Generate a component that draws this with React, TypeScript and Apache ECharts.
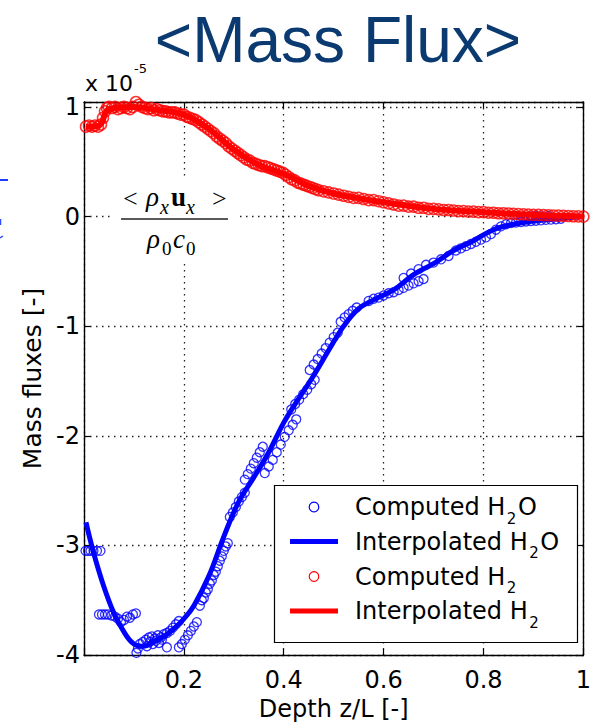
import React, { useEffect, useRef } from 'react';
import * as echarts from 'echarts';

// ---------- data ----------
const xTickValues = [0.2, 0.4, 0.6, 0.8, 1];
const yTickValues = [-4, -3, -2, -1, 0, 1];

const seriesNames = ['Computed H2O', 'Interpolated H2O', 'Computed H2', 'Interpolated H2'];
// legend label pieces: [before subscript, subscript, after subscript]
const legendParts: string[][] = [
  ['Computed H', '2', 'O'],
  ['Interpolated H', '2', 'O'],
  ['Computed H', '2', ''],
  ['Interpolated H', '2', ''],
];

// Interpolated H2O curve (x, value·1e5)
const h2oCurve: number[][] = [
  [0.004, -2.79], [0.02, -3.08], [0.04, -3.38], [0.06, -3.62], [0.08, -3.79], [0.1, -3.9],
  [0.12, -3.92], [0.14, -3.88], [0.16, -3.83], [0.18, -3.76], [0.2, -3.67], [0.22, -3.55],
  [0.25, -3.28], [0.28, -2.92], [0.31, -2.6], [0.34, -2.38], [0.37, -2.15], [0.4, -1.88],
  [0.43, -1.66], [0.46, -1.45], [0.49, -1.22], [0.52, -1.0], [0.55, -0.84], [0.58, -0.76],
  [0.62, -0.67], [0.66, -0.53], [0.7, -0.43], [0.74, -0.31], [0.78, -0.22], [0.82, -0.12],
  [0.86, -0.07], [0.9, -0.04], [0.95, -0.02], [1.0, 0.0],
];

// Computed H2O markers
const h2oComputed: number[][] = [
  [0.003, -3.05], [0.008, -3.05], [0.013, -3.05], [0.019, -3.05], [0.026, -3.05], [0.033, -3.05],
  [0.03, -3.63], [0.036, -3.63], [0.042, -3.63], [0.048, -3.63], [0.055, -3.64], [0.062, -3.65],
  [0.068, -3.67], [0.074, -3.7], [0.08, -3.68], [0.086, -3.65], [0.092, -3.66], [0.098, -3.63], [0.104, -3.62],
  [0.102, -4.03], [0.105, -3.98], [0.108, -3.94], [0.112, -3.9], [0.118, -3.88], [0.124, -3.86],
  [0.13, -3.84], [0.136, -3.83], [0.142, -3.85], [0.148, -3.82], [0.154, -3.84], [0.16, -3.81],
  [0.166, -3.8], [0.172, -3.78], [0.126, -3.92], [0.138, -3.9], [0.15, -3.89], [0.166, -3.93],
  [0.178, -3.75], [0.184, -3.72], [0.19, -3.69], [0.132, -3.88], [0.144, -3.87], [0.156, -3.86],
  [0.19, -3.93], [0.196, -3.9], [0.202, -3.86], [0.208, -3.82], [0.214, -3.78], [0.22, -3.74], [0.226, -3.7],
  [0.232, -3.55], [0.24, -3.48], [0.248, -3.4], [0.256, -3.32], [0.264, -3.24], [0.272, -3.14], [0.28, -3.05], [0.288, -2.98],
  [0.236, -3.5], [0.244, -3.43], [0.252, -3.35], [0.26, -3.27], [0.268, -3.19], [0.276, -3.1], [0.284, -3.01],
  [0.292, -2.74], [0.298, -2.7], [0.304, -2.65], [0.31, -2.6], [0.316, -2.56], [0.322, -2.52],
  [0.322, -2.4], [0.328, -2.35], [0.334, -2.3], [0.34, -2.25], [0.346, -2.2], [0.352, -2.15], [0.358, -2.1],
  [0.362, -2.34], [0.37, -2.28], [0.378, -2.22], [0.386, -2.15], [0.394, -2.08], [0.402, -2.01], [0.41, -1.95], [0.418, -1.9], [0.425, -1.85],
  [0.415, -1.76], [0.423, -1.71], [0.431, -1.67], [0.439, -1.62], [0.447, -1.58], [0.455, -1.53], [0.462, -1.49],
  [0.452, -1.4], [0.46, -1.35], [0.468, -1.3], [0.476, -1.25], [0.484, -1.2], [0.492, -1.15], [0.5, -1.1], [0.508, -1.06],
  [0.514, -0.96], [0.522, -0.92], [0.53, -0.89], [0.538, -0.86], [0.546, -0.83],
  [0.57, -0.77], [0.58, -0.75], [0.59, -0.74], [0.6, -0.72], [0.61, -0.7], [0.62, -0.69], [0.63, -0.67],
  [0.64, -0.65], [0.65, -0.63], [0.66, -0.61], [0.67, -0.59], [0.68, -0.57],
  [0.64, -0.56], [0.655, -0.52], [0.67, -0.48], [0.685, -0.44], [0.7, -0.42], [0.715, -0.39], [0.73, -0.36],
  [0.745, -0.31], [0.755, -0.29], [0.765, -0.27], [0.775, -0.25], [0.785, -0.23], [0.795, -0.21], [0.805, -0.19],
  [0.815, -0.16], [0.825, -0.12], [0.835, -0.09], [0.845, -0.07], [0.855, -0.06], [0.865, -0.055], [0.875, -0.05],
  [0.885, -0.045], [0.895, -0.04], [0.905, -0.038], [0.915, -0.035], [0.925, -0.03], [0.935, -0.028], [0.945, -0.025], [0.955, -0.02],
  [0.895, 0.0], [0.905, 0.005], [0.915, 0.0], [0.93, 0.005],
];

// Computed H2 markers
const h2Computed: number[][] = [
  [0.004, 0.82], [0.01, 0.83], [0.016, 0.82], [0.022, 0.83], [0.028, 0.82], [0.034, 0.84], [0.038, 0.9],
  [0.042, 0.96], [0.046, 0.99], [0.05, 1.0], [0.056, 0.99], [0.062, 1.0], [0.068, 0.98], [0.074, 0.99],
  [0.08, 1.0], [0.086, 0.99], [0.092, 0.98], [0.098, 1.0], [0.104, 1.045], [0.11, 1.02], [0.116, 1.0],
  [0.122, 0.99], [0.128, 0.98], [0.134, 0.99], [0.14, 0.97], [0.146, 0.98], [0.152, 0.97], [0.158, 0.96],
  [0.164, 0.96], [0.17, 0.95], [0.176, 0.95], [0.182, 0.95], [0.188, 0.94], [0.194, 0.93], [0.2, 0.93],
  [0.206, 0.91], [0.212, 0.9], [0.218, 0.89], [0.224, 0.88], [0.23, 0.86], [0.236, 0.84], [0.242, 0.82],
  [0.248, 0.8], [0.254, 0.78], [0.26, 0.76], [0.266, 0.73], [0.272, 0.71], [0.278, 0.69], [0.284, 0.67],
  [0.29, 0.64], [0.296, 0.62], [0.302, 0.6], [0.308, 0.58], [0.314, 0.56], [0.32, 0.54], [0.326, 0.52],
  [0.332, 0.51], [0.338, 0.49], [0.344, 0.48], [0.35, 0.47], [0.356, 0.46], [0.362, 0.46], [0.368, 0.45],
  [0.374, 0.44], [0.38, 0.43], [0.386, 0.42], [0.392, 0.41], [0.398, 0.4], [0.404, 0.38], [0.41, 0.36],
  [0.416, 0.34], [0.422, 0.33], [0.428, 0.31], [0.434, 0.3], [0.44, 0.29], [0.446, 0.28], [0.452, 0.27],
  [0.458, 0.26], [0.464, 0.25], [0.47, 0.24], [0.48, 0.23], [0.49, 0.22], [0.5, 0.21], [0.51, 0.2],
  [0.52, 0.19], [0.53, 0.18], [0.54, 0.17], [0.55, 0.17], [0.56, 0.16], [0.57, 0.15], [0.58, 0.15],
  [0.59, 0.14], [0.6, 0.13], [0.61, 0.12], [0.62, 0.11], [0.63, 0.1], [0.64, 0.1], [0.65, 0.09],
  [0.66, 0.09], [0.67, 0.08], [0.68, 0.08], [0.69, 0.07], [0.7, 0.07], [0.71, 0.065], [0.72, 0.06],
  [0.73, 0.06], [0.74, 0.055], [0.75, 0.05], [0.76, 0.05], [0.77, 0.045], [0.78, 0.045], [0.79, 0.04],
  [0.8, 0.04], [0.81, 0.035], [0.82, 0.035], [0.83, 0.03], [0.84, 0.03], [0.85, 0.028], [0.86, 0.025],
  [0.87, 0.022], [0.88, 0.02], [0.89, 0.018], [0.9, 0.016], [0.91, 0.015], [0.92, 0.013], [0.93, 0.012],
  [0.94, 0.01], [0.95, 0.008], [0.96, 0.006], [0.97, 0.005], [0.98, 0.003], [0.99, 0.002], [1.0, 0.0],
];

// Interpolated H2 curve
const h2Curve: number[][] = [
  [0.004, 0.82], [0.03, 0.83], [0.05, 0.98], [0.1, 1.0], [0.15, 0.97], [0.2, 0.93], [0.25, 0.8],
  [0.3, 0.61], [0.35, 0.47], [0.4, 0.39], [0.45, 0.28], [0.5, 0.21], [0.6, 0.13], [0.7, 0.07],
  [0.8, 0.04], [0.9, 0.016], [1.0, 0.0],
];

const BLUE = '#0000ff';
const RED = '#ff0000';
const SANS = 'DejaVu Sans';
const SERIF = 'Liberation Serif';

function measure(text: string, font: string): number {
  const ctx = document.createElement('canvas').getContext('2d');
  if (!ctx) return text.length * 12;
  ctx.font = font;
  return ctx.measureText(text).width;
}

function txt(x: number, y: number, text: string, extra: any) {
  return {
    type: 'text', x, y, z: 20,
    style: Object.assign({ text, fill: '#000', align: 'left', verticalAlign: 'middle', textAlign: 'left', textVerticalAlign: 'middle' }, extra),
  };
}

export default function App() {
  const ref = useRef<HTMLDivElement>(null);

  useEffect(() => {
    if (!ref.current) return;
    const chart = echarts.init(ref.current, undefined, { renderer: 'svg' });

    const grid = { left: 84, top: 102, width: 504, height: 559 };
    const frameLine = { show: true, onZero: false, lineStyle: { color: '#000', width: 1.4 } };
    const innerTick = { show: true, inside: true, length: 6, lineStyle: { color: '#000', width: 1.2 } };
    const dotted = { show: true, lineStyle: { color: '#222', type: [1.5, 4.5], width: 1.3 } };

    const fmtX = (v: number) => {
      const r = Math.round(v * 1000) / 1000;
      return xTickValues.indexOf(r) >= 0 ? String(r) : '';
    };
    const fmtY = (v: number) => {
      const r = Math.round(v * 1000) / 1000;
      return yTickValues.indexOf(r) >= 0 ? String(r) : '';
    };

    // ----- legend drawn as graphic elements -----
    const legendColors = [BLUE, BLUE, RED, RED];
    const legendKinds = ['marker', 'line', 'marker', 'line'];
    const rowY = [507, 541.5, 576.5, 611];
    const textX = 355;
    const mainFont = `24px "${SANS}"`;
    const subFont = `15px "${SANS}"`;
    const legendEls: any[] = [
      { type: 'rect', z: 18, shape: { x: 274.5, y: 485.5, width: 303, height: 157 }, style: { fill: '#fff', stroke: '#000', lineWidth: 1.2 } },
    ];
    legendParts.forEach((p, i) => {
      const y = rowY[i];
      if (legendKinds[i] === 'marker') {
        legendEls.push({ type: 'circle', z: 19, shape: { cx: 314, cy: y, r: 4.8 }, style: { fill: 'none', stroke: legendColors[i], lineWidth: 1.2 } });
      } else {
        legendEls.push({ type: 'line', z: 19, shape: { x1: 290, y1: y, x2: 338, y2: y }, style: { stroke: legendColors[i], lineWidth: 5 } });
      }
      const w0 = measure(p[0], mainFont);
      const w1 = measure(p[1], subFont);
      legendEls.push(txt(textX, y, p[0], { fontSize: 24, fontFamily: SANS, lineHeight: 20 }));
      legendEls.push(txt(textX + w0 + 1.5, y + 11.5, p[1], { fontSize: 15, fontFamily: SANS, lineHeight: 12 }));
      if (p[2]) legendEls.push(txt(textX + w0 + w1 + 3, y, p[2], { fontSize: 24, fontFamily: SANS, lineHeight: 20 }));
    });

    const option: any = {
      animation: false,
      backgroundColor: '#ffffff',
      textStyle: { fontFamily: SANS },
      grid,
      xAxis: [
        {
          type: 'value', min: 0, max: 1, interval: 0.2, position: 'bottom',
          axisLine: frameLine, axisTick: innerTick,
          axisLabel: { color: '#000', fontSize: 24, fontFamily: SANS, margin: 13, formatter: fmtX },
          splitLine: dotted,
          name: 'Depth z/L [-]', nameLocation: 'middle', nameGap: 42,
          nameTextStyle: { color: '#000', fontSize: 24, fontFamily: SANS },
        },
        {
          type: 'value', min: 0, max: 1, interval: 0.2, position: 'top',
          axisLine: frameLine, axisTick: innerTick, axisLabel: { show: false }, splitLine: { show: false },
        },
      ],
      yAxis: [
        {
          type: 'value', min: -4, max: 1.045, interval: 1, position: 'left',
          axisLine: frameLine, axisTick: innerTick,
          axisLabel: { color: '#000', fontSize: 24, fontFamily: SANS, margin: 4, formatter: fmtY },
          splitLine: dotted,
          name: 'Mass fluxes [-]', nameLocation: 'middle', nameGap: 31, nameRotate: 90,
          nameTextStyle: { color: '#000', fontSize: 25, fontFamily: SANS },
        },
        {
          type: 'value', min: -4, max: 1.045, interval: 1, position: 'right',
          axisLine: frameLine, axisTick: innerTick, axisLabel: { show: false }, splitLine: { show: false },
        },
      ],
      graphic: [
        {
          type: 'text', x: 338, y: 40, z: 5,
          style: { text: '<Mass Flux>', fontSize: 64, fontFamily: 'Liberation Sans', fill: '#0b3a70', align: 'center', verticalAlign: 'middle', textAlign: 'center', textVerticalAlign: 'middle' },
        },
        txt(85, 83, 'x 10', { fontSize: 22, fontFamily: SANS }),
        txt(134, 68, '-5', { fontSize: 13, fontFamily: SANS }),
        // white box behind the formula
        { type: 'rect', z: 1, shape: { x: 112, y: 180, width: 125, height: 82 }, style: { fill: '#fff' } },
        // numerator  < ρ_x u_x >
        txt(123, 198, '<', { fontSize: 26, fontFamily: SERIF }),
        txt(146, 197, 'ρ', { fontSize: 27, fontFamily: SERIF, fontStyle: 'italic' }),
        txt(160, 207, 'x', { fontSize: 20, fontFamily: SERIF, fontStyle: 'italic' }),
        txt(171, 197, 'u', { fontSize: 27, fontFamily: SERIF, fontWeight: 'bold' }),
        txt(186, 207, 'x', { fontSize: 20, fontFamily: SERIF, fontStyle: 'italic' }),
        txt(212, 198, '>', { fontSize: 26, fontFamily: SERIF }),
        { type: 'line', z: 5, shape: { x1: 121, y1: 219, x2: 228, y2: 219 }, style: { stroke: '#222', lineWidth: 1.4 } },
        // denominator  ρ_0 c_0
        txt(147, 239, 'ρ', { fontSize: 27, fontFamily: SERIF, fontStyle: 'italic' }),
        txt(162, 248, '0', { fontSize: 19, fontFamily: SERIF }),
        txt(173, 239, 'c', { fontSize: 27, fontFamily: SERIF, fontStyle: 'italic' }),
        txt(186, 248, '0', { fontSize: 19, fontFamily: SERIF }),
        // slide crop remnants at the left edge
        { type: 'line', z: 5, shape: { x1: 0, y1: 180, x2: 8, y2: 180 }, style: { stroke: '#1f3cff', lineWidth: 2 } },
        { type: 'line', z: 5, shape: { x1: 0.5, y1: 219, x2: 0.5, y2: 225 }, style: { stroke: '#3050ff', lineWidth: 1.5 } },
        { type: 'line', z: 5, shape: { x1: 0, y1: 238, x2: 3, y2: 236 }, style: { stroke: '#3050ff', lineWidth: 1.5 } },
        ...legendEls,
      ],
      series: [
        {
          name: seriesNames[0], type: 'scatter', data: h2oComputed, symbol: 'circle', symbolSize: 9,
          itemStyle: { color: 'rgba(0,0,0,0)', borderColor: BLUE, borderWidth: 1.3 }, z: 2,
        },
        {
          name: seriesNames[1], type: 'line', data: h2oCurve, smooth: 0.4, symbol: 'none', showSymbol: false,
          lineStyle: { color: BLUE, width: 5 }, itemStyle: { color: BLUE }, z: 3,
        },
        {
          name: seriesNames[2], type: 'scatter', data: h2Computed, symbol: 'circle', symbolSize: 11,
          itemStyle: { color: 'rgba(0,0,0,0)', borderColor: RED, borderWidth: 1.5 }, z: 4,
        },
        {
          name: seriesNames[3], type: 'line', data: h2Curve, smooth: 0.4, symbol: 'none', showSymbol: false,
          lineStyle: { color: RED, width: 6 }, itemStyle: { color: RED }, z: 5,
        },
      ],
    };

    chart.setOption(option);
    return () => chart.dispose();
  }, []);

  return <div ref={ref} style={{ position: 'absolute', left: 0, top: 0, width: 594, height: 726 }} />;
}
